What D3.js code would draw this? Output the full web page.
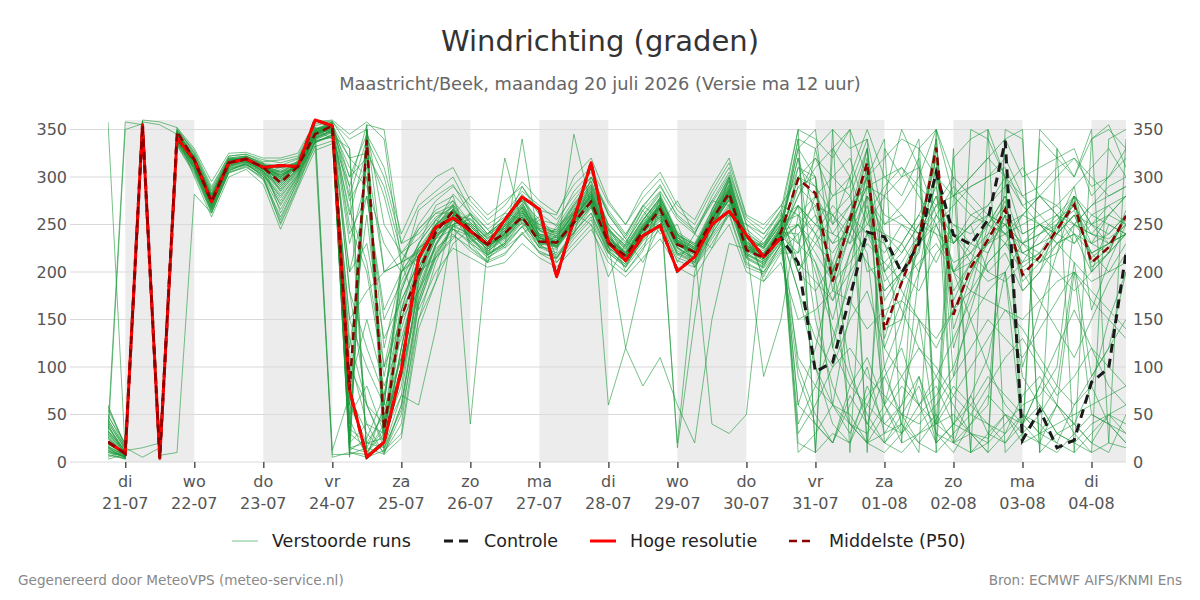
<!DOCTYPE html>
<html>
<head>
<meta charset="utf-8">
<script src="https://cdn.jsdelivr.net/npm/d3@7"></script>
<style>
  body { margin: 0; background: #fff; }
  svg { font-family: "DejaVu Sans", sans-serif; }
</style>
</head>
<body>
<svg id="chart" width="1200" height="600"></svg>
<script>
var width = 1200;
var height = 600;
var margin = { top: 120, right: 74, bottom: 138, left: 108 };

// 6-hourly steps starting 20-07 18:00 UTC
var startTime = "2026-07-20T18:00";
var endTime = "2026-08-04T12:00";

var dayTicks = ["2026-07-21","2026-07-22","2026-07-23","2026-07-24","2026-07-25","2026-07-26","2026-07-27","2026-07-28","2026-07-29","2026-07-30","2026-07-31","2026-08-01","2026-08-02","2026-08-03","2026-08-04"];
var dayNames = ["di","wo","do","vr","za","zo","ma","di","wo","do","vr","za","zo","ma","di"];
var dayLabels = ["21-07","22-07","23-07","24-07","25-07","26-07","27-07","28-07","29-07","30-07","31-07","01-08","02-08","03-08","04-08"];
// shaded days (start of each grey band)
var shadedDays = ["2026-07-21","2026-07-23","2026-07-25","2026-07-27","2026-07-29","2026-07-31","2026-08-02","2026-08-04"];

var yTicks = [0, 50, 100, 150, 200, 250, 300, 350];

// Hoge resolutie (HRES) - ends 30-07 12:00
var hres = [21,9,355,4,341,318,274,315,319,310,312,311,360,354,76,5,21,97,215,247,257,243,229,255,279,266,195,255,315,231,212,238,249,201,216,250,264,239,216,236];

// Controle
var control = [21,9,355,4,341,318,274,315,319,310,312,311,360,354,76,5,21,97,215,247,257,243,229,255,279,266,195,255,315,231,212,238,249,201,216,250,264,239,216,236,
  210,95,105,174,242,237,199,230,305,239,229,255,338,23,55,15,23,84,99,220];

// Middelste (P50)
var median = [21,9,355,4,348,318,274,315,319,310,294,311,345,354,76,339,34,153,199,242,264,244,229,241,258,232,231,252,274,231,217,243,266,229,221,255,283,223,215,242,
  298,283,190,255,315,139,189,236,331,155,205,234,266,197,216,245,271,210,226,259];

// Verstoorde runs (ensemble members)
var members = [
  [25,8,356,6,343,320,278,316,318,308,300,312,348,352, 60,330,40,160, 225,238,250,262,218,230,248,258,236,240,268,245,200,222,280,240,205,240,300,238,195,230, 290,270,200,250,310,150,200,240,320,170,210,230,260,205,220,250,265,215,230,255],
  [12,5,352,10,338,312,270,312,320,312,285,305,342,356, 25,350,20,120, 210,255,245,232,240,262,255,225,248,262,250,220,238,270,255,210,240,275,270,215,235,255, 310,300,180,240,330,120,170,225,340,140,195,240,275,190,210,240,280,205,220,265],
  [358,10,357,5,348,322,283,318,316,306,270,300,350,355, 15,20,50,90, 180,230,255,248,230,250,275,228,238,260,285,240,210,235,258,218,225,265,300,215,205,250, 60,40,20,80,110,60,30,90,40,50,30,20,40,60,70,100,250,240,230,240],
  [35,358,355,8,340,315,275,314,321,310,310,315,340,350, 320,300,60,200, 215,250,265,235,220,230,255,245,230,258,278,232,218,248,270,238,230,252,275,228,218,236, 250,230,210,260,300,200,220,250,290,200,230,250,280,230,240,255,270,240,235,250],
  [18,12,15,20,352,325,285,320,317,312,295,318,352,346, 100,60,15,55, 170,220,245,238,220,240,262,250,240,265,290,245,228,255,278,240,225,255,285,235,225,250, 340,10,30,20,80,40,60,150,30,20,40,60,300,40,80,60,200,50,40,30],
  [40,6,358,355,345,310,268,310,322,315,262,298,345,358, 280,340,300,230, 240,262,270,230,210,320,250,230,215,245,270,225,205,238,260,225,210,250,280,210,200,230, 270,250,230,240,280,240,230,200,260,230,250,200,220,180,200,230,240,200,250,240],
  [15,4,350,7,10,282,262,306,315,300,250,290,338,342, 10,5,12,30, 150,210,250,260,240,255,280,238,245,272,295,248,215,245,265,230,215,240,270,225,230,255, 200,180,210,100,40,90,120,60,80,40,30,25,50,30,20,60,30,10,20,15],
  [28,9,354,3,342,317,273,315,319,309,305,310,345,353, 40,355,25,140, 200,242,262,244,228,240,260,232,232,252,276,230,214,244,268,230,222,255,283,225,216,240, 300,290,190,250,320,130,190,235,330,160,200,235,268,200,215,245,275,210,225,260],
  [45,14,356,12,336,308,266,308,313,302,280,302,336,345, 200,280,150,190, 230,255,275,252,236,246,268,243,236,262,288,60,120,200,275,236,224,260,295,232,222,248, 320,180,60,160,280,100,40,200,300,20,70,110,200,30,50,80,210,90,120,200],
  [8,3,351,2,350,328,290,322,324,316,318,322,356,359, 330,10,40,100, 195,235,258,246,222,236,256,226,224,250,272,226,210,236,260,222,214,250,276,218,210,236, 280,320,280,290,340,250,270,300,350,280,290,300,310,270,280,300,320,290,300,320],
  [22,7,355,9,344,319,280,317,318,311,300,313,347,350, 250,200,90,180, 225,250,262,240,224,244,266,236,230,256,282,236,218,246,270,234,220,256,286,228,214,244, 230,210,150,220,260,180,200,230,250,210,220,240,250,220,230,240,260,220,230,240],
  [30,10,357,11,339,313,272,311,316,305,288,307,341,348, 20,40,30,70, 60,140,250,255,235,250,278,248,242,270,292,250,232,258,282,242,230,265,298,240,228,258, 350,340,320,350,10,330,300,340,20,320,340,350,10,30,340,320,300,340,350,330],
  [16,6,353,5,347,321,279,319,320,310,296,314,350,357, 300,320,200,210, 220,248,272,236,218,232,258,238,226,254,275,230,120,80,110,60,20,150,230,224,212,240, 180,130,100,120,90,70,50,40,60,90,120,150,130,110,140,170,200,180,160,140],
  [50,15,359,15,334,305,264,305,312,298,258,295,333,8, 8,15,8,60, 175,228,260,256,238,252,272,246,240,266,290,244,224,254,276,238,226,258,290,236,224,252, 260,280,240,270,300,260,250,230,270,250,240,260,250,230,210,220,250,270,280,290],
  [20,9,356,7,342,316,276,314,320,308,302,311,346,355, 180,60,20,120, 200,240,265,242,226,238,260,234,230,256,280,236,220,246,270,232,220,256,288,230,218,244, 330,350,200,40,20,50,80,60,20,40,60,90,70,50,30,40,50,60,70,80],
  [12,4,358,4,345,318,274,315,319,310,294,311,345,354, 5,340,45,170, 210,245,264,243,229,241,258,232,231,252,274,231,217,243,266,229,221,255,283,223,215,242, 240,260,230,260,240,220,250,240,210,250,230,220,260,240,250,230,240,230,260,250],
  [33,11,352,8,340,314,270,313,317,307,290,308,344,351, 120,260,100,150, 205,236,255,250,232,248,270,240,234,262,284,238,222,250,272,234,224,40,30,50,220,246, 10,30,60,50,20,30,40,20,10,30,50,40,20,40,60,30,20,40,50,60],
  [26,8,355,6,346,320,278,317,321,313,308,316,350,358, 340,350,250,220, 235,258,268,234,218,230,252,236,226,250,270,226,212,240,264,226,214,248,280,220,210,236, 300,320,300,280,200,210,230,260,240,200,210,260,250,230,240,250,280,250,240,260],
  [38,12,354,10,337,310,268,309,314,304,278,303,339,347, 30,15,55,110, 200,215,235,262,245,225,240,255,210,230,250,195,230,265,240,250,205,230,260,250,190,220, 220,250,280,300,250,280,300,310,260,290,270,250,230,260,280,260,230,250,270,280],
  [14,5,357,5,349,324,286,320,322,314,312,319,353,12, 70,30,10,40, 165,218,248,252,234,248,272,244,238,264,288,242,226,250,276,20,200,262,296,238,226,256, 100,50,20,70,40,20,50,80,30,10,40,70,50,20,30,60,40,20,50,30],
  [19,7,356,7,343,317,275,315,318,309,298,312,346,353, 230,300,120,200, 218,246,266,244,226,240,262,236,230,254,278,232,218,246,268,230,220,254,284,226,216,242, 270,240,190,240,300,170,200,220,310,180,210,230,240,210,220,240,260,220,230,250],
  [42,13,353,13,336,309,267,307,313,303,275,301,337,344, 12,25,70,180, 230,255,270,40,228,244,268,240,232,258,283,237,221,249,271,233,222,257,287,231,219,245, 60,120,200,250,290,230,180,150,120,160,200,230,250,260,250,240,230,260,270,250],
  [10,3,354,4,348,322,282,318,319,311,306,314,349,355, 290,10,35,150, 212,244,262,242,226,240,258,234,228,254,276,230,216,244,266,228,220,252,280,226,214,240, 340,330,250,300,350,300,280,320,10,280,300,320,340,300,310,320,330,280,300,330],
  [55,18,358,18,333,303,262,304,311,297,252,292,332,338, 150,180,200,220, 245,265,275,238,215,228,340,228,220,345,268,222,208,236,258,220,212,246,278,216,206,232, 250,270,260,230,280,250,260,240,280,230,250,260,240,250,260,240,280,260,250,240],
  [24,9,355,6,344,318,276,316,319,310,302,312,347,354, 45,5,18,90, 180,228,254,250,232,246,268,238,234,260,282,236,220,248,270,232,222,256,286,228,218,244, 290,300,120,80,60,40,30,50,70,100,150,180,200,90,60,30,40,80,150,200],
  [31,10,356,9,341,315,272,313,318,308,292,309,343,351, 310,290,230,200, 228,270,280,225,210,250,290,260,215,240,300,260,235,210,250,275,240,225,265,245,230,260, 210,190,170,200,230,210,190,210,230,200,180,210,230,220,210,230,250,230,220,240],
  [17,6,357,6,346,320,278,317,320,311,300,313,348,356, 20,350,30,80, 190,236,260,248,230,244,266,236,232,258,280,234,220,246,268,232,220,254,284,228,90,150, 260,200,140,90,50,20,10,30,50,20,10,30,50,40,20,10,30,50,40,20],
  [27,8,355,8,342,316,274,314,318,308,296,310,345,352, 260,330,280,210, 222,250,266,240,224,238,258,230,226,252,276,230,216,244,268,230,220,254,282,224,214,240, 280,310,330,350,300,320,340,330,300,280,260,270,290,310,280,260,250,270,290,300],
  [36,11,354,10,339,312,270,311,316,306,285,306,341,349, 80,150,80,130, 195,238,258,246,228,242,264,236,232,258,280,234,218,246,270,232,222,256,286,228,218,244, 320,260,200,260,330,140,150,240,340,120,180,250,280,180,200,250,290,200,220,260],
  [20,5,355,3,344,318,277,316,320,310,303,312,347,5, 10,8,22,100, 205,242,264,244,228,240,262,236,230,256,278,232,218,246,270,232,220,256,286,226,216,242, 30,60,100,150,180,120,90,60,40,70,100,130,160,140,110,80,60,90,120,150],
  [5,12,360,358,352,330,295,325,326,320,320,325,358,360, 345,358,340,210, 250,275,290,270,250,262,285,270,255,280,300,265,240,270,290,260,245,275,305,255,240,265, 350,10,330,300,20,280,350,310,40,330,10,350,300,20,350,330,10,340,355,310],
  [60,15,5,15,345,300,258,300,308,292,245,288,328,335, 150,100,60,210, 160,200,225,215,205,210,230,215,205,225,245,210,195,215,235,205,195,225,250,200,190,210, 150,160,180,170,140,160,170,150,130,160,180,170,160,150,170,190,200,170,150,130],
  [3,8,355,5,340,312,275,318,322,314,300,315,350,340, 290,355,350,230, 270,285,300,265,245,258,275,255,250,285,305,260,235,265,285,255,240,280,310,250,235,265, 200,240,270,250,220,60,20,30,40,25,350,340,300,270,250,230,210,190,200,230],
  [48,20,350,3,338,308,262,305,310,300,255,296,338,342, 60,20,25,160, 195,225,240,222,210,218,242,220,210,235,255,215,200,225,245,212,205,235,260,205,198,222, 240,100,60,30,70,90,50,20,45,80,60,40,30,70,90,60,40,20,10,50],
  [10,6,358,8,350,326,288,322,324,318,315,320,354,358, 240,280,160,200, 265,280,292,260,240,255,282,262,248,275,300,262,238,268,292,258,242,272,302,250,240,262, 230,280,300,320,260,290,310,280,250,270,290,300,320,280,260,270,290,310,330,300],
  [25,350,356,10,343,318,275,316,318,309,298,311,346,352, 15,10,30,150, 180,215,238,226,212,220,240,222,214,238,258,220,205,228,250,215,208,238,262,208,200,225, 110,80,60,40,30,60,90,120,100,70,50,80,110,130,100,70,90,120,100,80],
  [33,12,355,7,344,321,280,318,320,312,305,314,349,355, 275,310,10,50, 150,190,260,280,260,275,290,265,260,300,320,275,250,285,305,270,255,290,320,260,250,270, 300,280,250,270,290,300,310,290,270,280,300,320,300,280,290,310,320,300,280,290],
  [13,5,354,5,343,317,274,315,319,310,294,311,345,354, 110,40,8,25, 140,190,230,245,228,238,258,230,228,252,272,228,214,240,262,225,215,250,280,222,212,238, 270,150,80,40,20,10,30,60,90,60,30,10,30,50,30,20,10,30,50,40],
  [58,18,359,14,335,306,265,307,314,300,266,298,336,343, 330,5,60,200, 225,240,250,238,228,236,252,232,226,248,268,226,212,240,262,226,214,248,276,220,208,234, 250,220,190,210,240,230,200,180,220,240,210,190,200,230,220,200,180,200,220,240],
  [7,4,356,4,347,322,282,320,322,313,310,316,351,356, 200,230,130,170, 210,248,270,252,236,248,270,244,238,262,285,244,228,255,278,240,228,260,292,236,226,250, 330,300,120,200,310,60,130,240,320,90,160,220,260,100,160,220,280,160,210,250],
  [22,9,356,6,345,319,277,316,319,310,300,312,347,353, 50,80,30,120, 200,238,260,232,215,226,248,220,215,242,262,220,206,234,256,220,210,244,272,218,208,232, 90,40,20,60,100,30,60,90,20,40,70,30,20,50,40,20,60,80,40,20],
  [16,7,353,9,341,314,271,312,317,306,290,308,342,349, 300,345,310,240, 280,300,310,275,255,270,295,275,262,292,310,272,250,278,298,265,250,285,315,258,245,270, 260,240,220,250,290,280,260,240,270,300,280,260,240,260,280,270,250,240,260,280],
  [41,14,354,12,338,311,269,310,315,304,282,304,340,347, 20,330,45,90, 170,222,248,240,224,236,258,232,228,254,276,232,216,244,266,230,218,252,282,226,214,240, 180,100,40,20,60,100,150,200,250,200,150,100,60,40,80,120,160,120,80,60],
  [29,10,355,8,343,317,275,315,318,309,298,311,346,353, 90,350,200,210, 245,262,262,236,222,234,256,236,228,250,272,230,216,242,264,228,218,250,280,224,214,238, 220,330,350,10,300,340,20,330,350,300,10,20,340,350,10,330,300,350,20,340],
  [11,6,357,5,347,321,281,318,321,312,306,315,350,355, 35,20,15,70, 190,250,282,262,240,256,280,250,244,270,296,250,230,260,284,15,150,266,300,242,228,256, 270,250,240,230,250,240,220,250,240,230,260,250,240,230,250,240,260,250,230,240],
  [37,11,354,9,340,313,271,312,316,306,287,307,342,349, 265,210,100,185, 222,235,245,230,218,228,248,226,218,242,262,222,208,232,254,218,210,240,268,214,204,228, 310,290,260,280,330,200,230,260,300,230,250,270,300,240,250,260,280,250,260,280],
  [20,8,356,6,345,319,277,316,320,311,302,313,348,355, 320,325,290,220, 205,244,266,248,232,244,264,238,232,258,282,236,220,248,272,236,224,258,290,230,218,246, 40,80,130,190,240,200,160,120,90,130,170,210,230,200,170,140,110,150,190,220],
  [44,16,352,11,337,309,266,309,313,302,272,301,337,344, 8,350,12,60, 165,215,250,256,238,254,276,246,242,268,292,246,226,254,278,240,228,262,296,238,226,254, 20,10,350,330,340,20,40,10,350,20,30,10,350,340,10,30,20,10,340,350],
  [15,5,357,6,346,320,280,317,320,311,304,314,348,356, 180,120,70,160, 215,250,266,244,228,242,264,236,230,256,280,234,220,246,270,234,222,256,288,228,216,244, 250,210,170,220,270,190,210,240,280,200,220,250,270,220,230,250,270,230,240,260],
  [32,12,355,8,341,316,273,314,318,308,292,309,344,351, 130,60,40,110, 185,230,258,250,232,246,268,240,236,262,286,240,224,252,274,236,226,260,292,232,220,248, 200,230,260,240,210,180,200,230,260,240,220,200,190,210,240,260,240,220,200,210]
];

var parseIso = d3.utcParse("%Y-%m-%dT%H:%M");
var parseDay = d3.utcParse("%Y-%m-%d");
var t0 = parseIso(startTime);
var t1 = parseIso(endTime);
var times = d3.utcHour.every(6).range(t0, d3.utcHour.offset(t1, 1));

var svg = d3.select("#chart");

var scaleX = d3.scaleUtc()
    .domain([t0, t1])
    .range([margin.left, width - margin.right]);

var scaleY = d3.scaleLinear()
    .domain([0, 360])
    .range([height - margin.bottom, margin.top]);

var plotTop = margin.top;
var plotBottom = height - margin.bottom;

// grey day bands
svg.append("g")
    .attr("class", "bands")
  .selectAll("rect")
  .data(shadedDays)
  .enter()
  .append("rect")
    .attr("x", function(d) { return scaleX(parseDay(d)); })
    .attr("y", plotTop)
    .attr("width", function(d) {
      var a = parseDay(d);
      var b = d3.min([d3.utcDay.offset(a, 1), t1]);
      return scaleX(b) - scaleX(a);
    })
    .attr("height", plotBottom - plotTop)
    .attr("fill", "#ececec");

// horizontal gridlines
svg.append("g")
    .attr("class", "grid")
  .selectAll("line")
  .data(yTicks)
  .enter()
  .append("line")
    .attr("x1", 70)
    .attr("x2", width - margin.right)
    .attr("y1", function(d) { return scaleY(d); })
    .attr("y2", function(d) { return scaleY(d); })
    .attr("stroke", "#d9d9d9")
    .attr("stroke-width", 1);

// y labels left and right
var yAxisLeft = d3.axisLeft(scaleY).tickValues(yTicks).tickSize(0).tickPadding(0);
var yAxisRight = d3.axisRight(scaleY).tickValues(yTicks).tickSize(0).tickPadding(0);

function styleAxis(g) {
  g.select(".domain").remove();
  g.selectAll("text")
    .attr("font-family", "DejaVu Sans, sans-serif")
    .attr("font-size", 16)
    .attr("fill", "#555");
}

svg.append("g")
    .attr("transform", "translate(67,0)")
    .call(yAxisLeft)
    .call(styleAxis);

svg.append("g")
    .attr("transform", "translate(1133,0)")
    .call(yAxisRight)
    .call(styleAxis);

// x axis ticks + two-line labels
var xAxis = d3.axisBottom(scaleX)
    .tickValues(dayTicks.map(parseDay))
    .tickSize(6)
    .tickFormat("");

var xg = svg.append("g")
    .attr("transform", "translate(0," + plotBottom + ")")
    .call(xAxis);
xg.select(".domain").remove();
xg.selectAll(".tick line").attr("stroke", "#555").attr("stroke-width", 1.5);

var xLabels = svg.append("g").attr("class", "x-labels");
dayTicks.forEach(function(d, i) {
  var x = scaleX(parseDay(d));
  xLabels.append("text")
      .attr("x", x).attr("y", 487)
      .attr("text-anchor", "middle")
      .attr("font-size", 16).attr("fill", "#555")
      .text(dayNames[i]);
  xLabels.append("text")
      .attr("x", x).attr("y", 509)
      .attr("text-anchor", "middle")
      .attr("font-size", 16).attr("fill", "#555")
      .text(dayLabels[i]);
});

// clip for the lines
svg.append("clipPath")
    .attr("id", "plot-clip")
  .append("rect")
    .attr("x", margin.left)
    .attr("y", plotTop - 2)
    .attr("width", width - margin.right - margin.left)
    .attr("height", plotBottom - plotTop + 4);

var line = d3.line()
    .x(function(d, i) { return scaleX(times[i]); })
    .y(function(d) { return scaleY(d); });

var lines = svg.append("g").attr("clip-path", "url(#plot-clip)");

lines.append("g")
    .attr("class", "members")
  .selectAll("path")
  .data(members)
  .enter()
  .append("path")
    .attr("d", line)
    .attr("fill", "none")
    .attr("stroke", "#1e9a3c")
    .attr("stroke-opacity", 0.6)
    .attr("stroke-width", 1);

lines.append("path")
    .datum(control)
    .attr("d", line)
    .attr("fill", "none")
    .attr("stroke", "#1a1a1a")
    .attr("stroke-width", 3)
    .style("stroke-dasharray", "9,6");

lines.append("path")
    .datum(hres)
    .attr("d", line)
    .attr("fill", "none")
    .attr("stroke", "#ff0000")
    .attr("stroke-width", 3)
    .attr("stroke-linejoin", "round");

lines.append("path")
    .datum(median)
    .attr("d", line)
    .attr("fill", "none")
    .attr("stroke", "#8b0000")
    .attr("stroke-width", 2.5)
    .style("stroke-dasharray", "8,5");

// title and subtitle
svg.append("text")
    .attr("x", width / 2).attr("y", 51)
    .attr("text-anchor", "middle")
    .attr("font-size", 29).attr("fill", "#333")
    .text("Windrichting (graden)");

svg.append("text")
    .attr("x", width / 2).attr("y", 90)
    .attr("text-anchor", "middle")
    .attr("font-size", 17.8).attr("fill", "#666")
    .text("Maastricht/Beek, maandag 20 juli 2026 (Versie ma 12 uur)");

// legend
var legendItems = [
  { label: "Verstoorde runs", x: 232, color: "#1e9a3c", width: 1, dash: null, opacity: 0.6 },
  { label: "Controle", x: 444, color: "#1a1a1a", width: 3, dash: "9,6", opacity: 1 },
  { label: "Hoge resolutie", x: 590, color: "#ff0000", width: 3, dash: null, opacity: 1 },
  { label: "Middelste (P50)", x: 789, color: "#8b0000", width: 2.5, dash: "8,5", opacity: 1 }
];

var legend = svg.append("g").attr("class", "legend");
legendItems.forEach(function(d) {
  legend.append("line")
      .attr("x1", d.x).attr("x2", d.x + 26)
      .attr("y1", 541).attr("y2", 541)
      .attr("stroke", d.color)
      .attr("stroke-width", d.width)
      .attr("stroke-opacity", d.opacity)
      .style("stroke-dasharray", d.dash);
  legend.append("text")
      .attr("x", d.x + 40).attr("y", 547)
      .attr("font-size", 17.5).attr("fill", "#222")
      .text(d.label);
});

// footer
svg.append("text")
    .attr("x", 18).attr("y", 585)
    .attr("font-size", 13.6).attr("fill", "#888")
    .text("Gegenereerd door MeteoVPS (meteo-service.nl)");

svg.append("text")
    .attr("x", 1182).attr("y", 585)
    .attr("text-anchor", "end")
    .attr("font-size", 13.6).attr("fill", "#888")
    .text("Bron: ECMWF AIFS/KNMI Ens");
</script>
</body>
</html>
